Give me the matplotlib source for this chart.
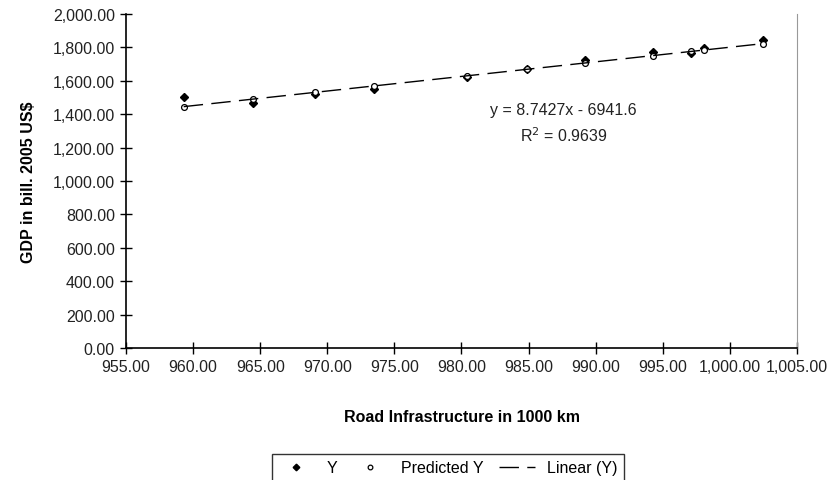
import matplotlib
matplotlib.use("Agg")
import matplotlib.pyplot as plt
from matplotlib.ticker import FuncFormatter

plt.rcParams['font.family'] = ['Liberation Sans', 'DejaVu Sans']

# road infrastructure (1000 km), observed GDP and predicted GDP (bill. 2005 US$)
road_km = [959.3, 964.5, 969.1, 973.5, 980.4, 984.9, 989.2, 994.3, 997.1, 998.1, 1002.5]
gdp_y = [1505, 1468, 1521, 1551, 1621, 1668, 1727, 1771, 1768, 1795, 1843]
gdp_pred = [1446, 1491, 1531, 1569, 1630, 1669, 1706, 1751, 1776, 1784, 1823]

# trendline from the chart label
slope = 8.7427
intercept = -6941.6

x_ticks = [955, 960, 965, 970, 975, 980, 985, 990, 995, 1000, 1005]
y_ticks = [0, 200, 400, 600, 800, 1000, 1200, 1400, 1600, 1800, 2000]

fig = plt.figure(figsize=(8.3, 4.81), dpi=100)
ax = fig.add_axes([126/830, 1-349/481, (797-126)/830, (349-15)/481])

ax.plot(road_km, gdp_y, linestyle='none', marker='D', markersize=4.2,
        color='black', label='Y', zorder=3)
ax.plot(road_km, gdp_pred, linestyle='none', marker='o', markersize=4.2,
        markerfacecolor='white', markeredgecolor='black', markeredgewidth=0.9,
        label='Predicted Y', zorder=4)
xs = [min(road_km), max(road_km)]
ax.plot(xs, [slope*v + intercept for v in xs], color='black', lw=1.0,
        linestyle=(0, (14, 6)), label='Linear (Y)', zorder=5)

ax.text(987.6, 1431, 'y = 8.7427x - 6941.6', ha='center', va='center', fontsize=11.5, color='#222222')
ax.text(987.6, 1280, 'R$^2$ = 0.9639', ha='center', va='center', fontsize=11.5, color='#222222')

ax.set_xlim(955, 1005)
ax.set_ylim(0, 2000)
ax.set_xticks(x_ticks)
ax.set_yticks(y_ticks)
fmt = FuncFormatter(lambda v, p: '{:,.2f}'.format(v))
ax.xaxis.set_major_formatter(fmt)
ax.yaxis.set_major_formatter(fmt)
ax.tick_params(direction='inout', length=8, width=1, labelsize=11.5, labelcolor='#222222', pad=4)

ax.spines['top'].set_color('none')
ax.spines['right'].set_color('#999999')
ax.spines['left'].set_linewidth(1.2)
ax.spines['bottom'].set_linewidth(1.2)

ax.set_xlabel('Road Infrastructure in 1000 km', fontsize=11.5, fontweight='bold', labelpad=25)
ax.set_ylabel('GDP in bill. 2005 US$', fontsize=11.5, fontweight='bold', labelpad=12)

leg = fig.legend(loc='upper center', bbox_to_anchor=(448/830, 1-447/481), ncol=3,
                 frameon=True, fancybox=False, fontsize=11.5, handlelength=2.2,
                 columnspacing=1.0, handletextpad=0.8, borderpad=0.4, markerscale=0.8)
leg.get_frame().set_edgecolor('black')
leg.get_frame().set_linewidth(1.0)

fig.savefig('out.png', dpi=100)
